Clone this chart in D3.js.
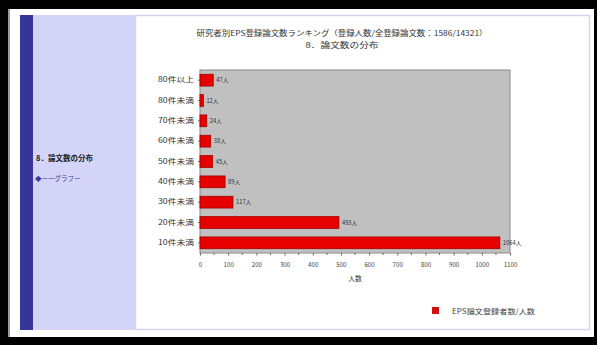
<!DOCTYPE html>
<html><head><meta charset="utf-8">
<script src="https://cdn.jsdelivr.net/npm/d3@7"></script>
<style>html,body{margin:0;padding:0;background:#000;}svg{display:block;}</style>
</head><body>
<svg id="c" width="597" height="345"></svg>
<script>
const categories = ["80件以上","80件未満","70件未満","60件未満","50件未満","40件未満","30件未満","20件未満","10件未満"];
const values = [47, 12, 24, 38, 45, 89, 117, 493, 1064];
const valueLabels = ["47人","12人","24人","38人","45人","89人","117人","493人","1064人"];
const tickValues = [0,100,200,300,400,500,600,700,800,900,1000,1100];
const titleLines = ["研究者別EPS登録論文数ランキング（登録人数/全登録論文数：1586/14321）","8．論文数の分布"];
const axisTitle = "人数";
const legendLabel = "EPS論文登録者数/人数";
const sideTitle = "8．論文数の分布";
const sideLink = "◆ーーグラフー";

const svg = d3.select("#c");
const F = "'Noto Sans CJK JP','Noto Sans',sans-serif";

// frame
svg.append("rect").attr("x",0).attr("y",0).attr("width",597).attr("height",345).attr("fill","#000");
svg.append("rect").attr("x",8).attr("y",9).attr("width",586).attr("height",328).attr("fill","#fff");
svg.append("rect").attr("x",8).attr("y",9).attr("width",2).attr("height",328).attr("fill","#9a9aa8");
svg.append("rect").attr("x",20).attr("y",15).attr("width",13).attr("height",315).attr("fill","#36369a");
svg.append("rect").attr("x",33).attr("y",15).attr("width",102).attr("height",315).attr("fill","#d4d4f8");
svg.append("rect").attr("x",135.5).attr("y",15.5).attr("width",454).attr("height",314).attr("fill","#fff").attr("stroke","#d4d4ec").attr("stroke-width",1.5);

svg.append("text").attr("x",36).attr("y",161).attr("font-family",F).attr("font-size",7.5).attr("font-weight","bold").attr("fill","#222").text(sideTitle);
svg.append("text").attr("x",35).attr("y",181).attr("font-family",F).attr("font-size",6.5).attr("fill","#3a3aa0").text(sideLink);

// title
const tl = [291, 73];
titleLines.forEach((t,i)=>{
  svg.append("text").attr("x",342).attr("y",36+i*11.5).attr("text-anchor","middle")
    .attr("font-family",F).attr("font-size",7.5).attr("fill","#333")
    .attr("textLength",tl[i]).attr("lengthAdjust","spacingAndGlyphs").text(t);
});

const x = d3.scaleLinear().domain([0,1100]).range([200,510]);
const y = d3.scaleBand().domain(categories).range([70,253]).paddingInner(0.42).paddingOuter(0.21);

svg.append("rect").attr("x",x(0)).attr("y",70).attr("width",x(1100)-x(0)).attr("height",183)
  .attr("fill","#c0c0c0").attr("stroke","#8a8a8a").attr("stroke-width",1);

svg.selectAll("rect.bar").data(categories).join("rect").attr("class","bar")
  .attr("x",x(0)).attr("y",d=>y(d)).attr("width",(d,i)=>x(values[i])-x(0)).attr("height",y.bandwidth())
  .attr("fill","#e60000").attr("stroke","#a00000").attr("stroke-width",0.8);

svg.selectAll("text.vl").data(categories).join("text").attr("class","vl")
  .attr("x",(d,i)=>x(values[i])+3).attr("y",d=>y(d)+y.bandwidth()/2+2.2)
  .attr("font-family",F).attr("font-size",5.8).attr("fill","#333").text((d,i)=>valueLabels[i]);

// category axis
const ya = svg.append("g").attr("transform",`translate(${x(0)},0)`).call(d3.axisLeft(y).tickSize(2).tickPadding(4));
ya.select(".domain").remove();
ya.selectAll("line").attr("stroke","#666");
ya.selectAll("text").attr("font-family",F).attr("font-size",7.2).attr("fill","#333")
  .attr("textLength",36).attr("lengthAdjust","spacingAndGlyphs");

// value axis
const xa = svg.append("g").attr("transform","translate(0,253)")
  .call(d3.axisBottom(x).tickValues(tickValues).tickSize(2.5).tickPadding(7).tickFormat(d3.format("d")));
xa.select(".domain").remove();
xa.selectAll("line").attr("stroke","#666");
xa.selectAll("text").attr("font-family",F).attr("font-size",6.2).attr("fill","#444");
const minor = d3.range(50,1100,100);
svg.append("g").attr("transform","translate(0,253)").selectAll("line").data(minor).join("line")
  .attr("x1",d=>x(d)).attr("x2",d=>x(d)).attr("y1",0).attr("y2",2).attr("stroke","#666");

svg.append("text").attr("x",355).attr("y",281).attr("text-anchor","middle").attr("font-family",F)
  .attr("font-size",6.8).attr("fill","#333").text(axisTitle);

// legend
svg.append("rect").attr("x",432).attr("y",307).attr("width",7).attr("height",7).attr("fill","#d01010");
svg.append("text").attr("x",452).attr("y",313.5).attr("font-family",F).attr("font-size",7).attr("fill","#444")
  .attr("textLength",83).attr("lengthAdjust","spacingAndGlyphs").text(legendLabel);
</script>
</body></html>
